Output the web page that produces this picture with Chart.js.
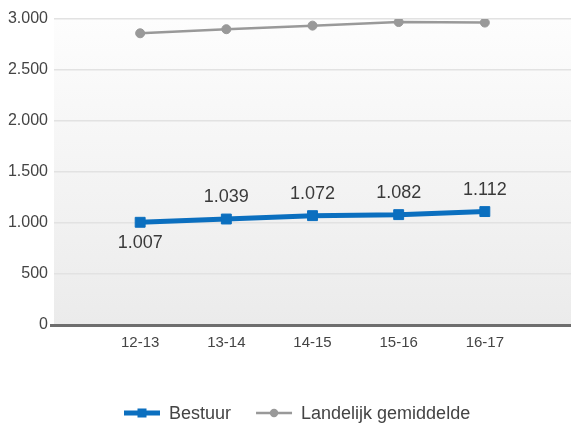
<!DOCTYPE html>
<html>
<head>
<meta charset="utf-8">
<script src="https://cdn.jsdelivr.net/npm/chart.js@4"></script>
<style>
  html, body { margin: 0; padding: 0; background: #fff; }
  canvas { display: block; }
</style>
</head>
<body>
<canvas id="chart" width="571" height="423"></canvas>
<script>
const categories = ['12-13', '13-14', '14-15', '15-16', '16-17'];
const bestuur = [1007, 1039, 1072, 1082, 1112];
const landelijk = [2860, 2900, 2935, 2970, 2965];
const seriesNames = ['Bestuur', 'Landelijk gemiddelde'];
const yTicks = [0, 500, 1000, 1500, 2000, 2500, 3000];

const BLUE = '#0b6fbf';
const GREY = '#999999';
const FONT = "'Liberation Sans', Arial, sans-serif";

function fmt(v) {
  return String(v).replace(/\B(?=(\d{3})+(?!\d))/g, '.');
}

// empty slot on both sides so the points sit like in the original
const labels = [''].concat(categories, ['']);
const pad = arr => [null].concat(arr, [null]);

const bgPlugin = {
  id: 'bg',
  beforeDraw(chart) {
    const { ctx, chartArea: a } = chart;
    const g = ctx.createLinearGradient(0, a.top, 0, a.bottom);
    g.addColorStop(0, '#fdfdfd');
    g.addColorStop(1, '#ebebeb');
    ctx.save();
    ctx.fillStyle = g;
    ctx.fillRect(a.left, a.top, a.right - a.left, a.bottom - a.top);
    ctx.restore();
  }
};

const valueLabels = {
  id: 'valueLabels',
  afterDatasetsDraw(chart) {
    const ctx = chart.ctx;
    const meta = chart.getDatasetMeta(0);
    ctx.save();
    ctx.font = '18px ' + FONT;
    ctx.fillStyle = '#3a3a3a';
    ctx.textAlign = 'center';
    ctx.textBaseline = 'middle';
    meta.data.forEach((pt, i) => {
      const v = chart.data.datasets[0].data[i];
      if (v == null) return;
      const below = i === 1;
      ctx.fillText(fmt(v), pt.x, below ? pt.y + 21 : pt.y - 22);
    });
    ctx.restore();
  }
};

const legendPlugin = {
  id: 'customLegend',
  afterDraw(chart) {
    const ctx = chart.ctx;
    const y = 413;
    ctx.save();
    ctx.font = '18px ' + FONT;
    ctx.textBaseline = 'middle';
    let x = 124;
    chart.data.datasets.forEach((ds, i) => {
      ctx.strokeStyle = ds.borderColor;
      ctx.lineWidth = i === 0 ? 5 : 2.5;
      ctx.beginPath();
      ctx.moveTo(x, y);
      ctx.lineTo(x + 36, y);
      ctx.stroke();
      ctx.fillStyle = ds.borderColor;
      if (i === 0) {
        ctx.fillRect(x + 13.5, y - 4.5, 9, 9);
      } else {
        ctx.beginPath();
        ctx.arc(x + 18, y, 4.2, 0, Math.PI * 2);
        ctx.fill();
      }
      ctx.fillStyle = '#444';
      ctx.fillText(ds.label, x + 45, y + 1);
      x += 45 + ctx.measureText(ds.label).width + 25;
    });
    ctx.restore();
  }
};

new Chart(document.getElementById('chart').getContext('2d'), {
  type: 'line',
  data: {
    labels: labels,
    datasets: [{
      label: seriesNames[0],
      data: pad(bestuur),
      borderColor: BLUE,
      backgroundColor: BLUE,
      borderWidth: 5,
      pointStyle: 'rect',
      pointRadius: 7,
      pointBorderWidth: 1,
      pointHoverRadius: 7,
      tension: 0
    }, {
      label: seriesNames[1],
      data: pad(landelijk),
      borderColor: GREY,
      backgroundColor: GREY,
      borderWidth: 2.5,
      pointStyle: 'circle',
      pointRadius: 4.5,
      pointBorderWidth: 1,
      pointHoverRadius: 4.5,
      tension: 0
    }]
  },
  options: {
    responsive: false,
    animation: false,
    layout: { autoPadding: false, padding: { top: 19, right: 0, bottom: 70, left: 0 } },
    plugins: {
      legend: { display: false },
      tooltip: { enabled: false }
    },
    scales: {
      x: {
        offset: false,
        afterFit(scale) { scale.paddingLeft = 0; scale.paddingRight = 0; },
        grid: { display: false },
        border: { display: false },
        ticks: {
          autoSkip: false,
          maxRotation: 0,
          padding: 1,
          color: '#444',
          font: { family: FONT, size: 15 }
        }
      },
      y: {
        min: 0,
        max: 3000,
        afterBuildTicks(scale) {
          scale.ticks = yTicks.map(v => ({ value: v }));
        },
        afterFit(scale) { scale.width = 54; },
        border: { display: false },
        grid: {
          color: c => c.tick && c.tick.value === 0 ? '#6e6e6e' : '#e2e2e2',
          lineWidth: c => c.tick && c.tick.value === 0 ? 3 : 1.5,
          tickColor: c => c.tick && c.tick.value === 0 ? '#6e6e6e' : 'rgba(0,0,0,0)',
          tickLength: 4,
          drawTicks: true
        },
        ticks: {
          padding: 2,
          color: '#444',
          font: { family: FONT, size: 16 },
          callback: v => fmt(v)
        }
      }
    }
  },
  plugins: [bgPlugin, valueLabels, legendPlugin]
});
</script>
</body>
</html>
